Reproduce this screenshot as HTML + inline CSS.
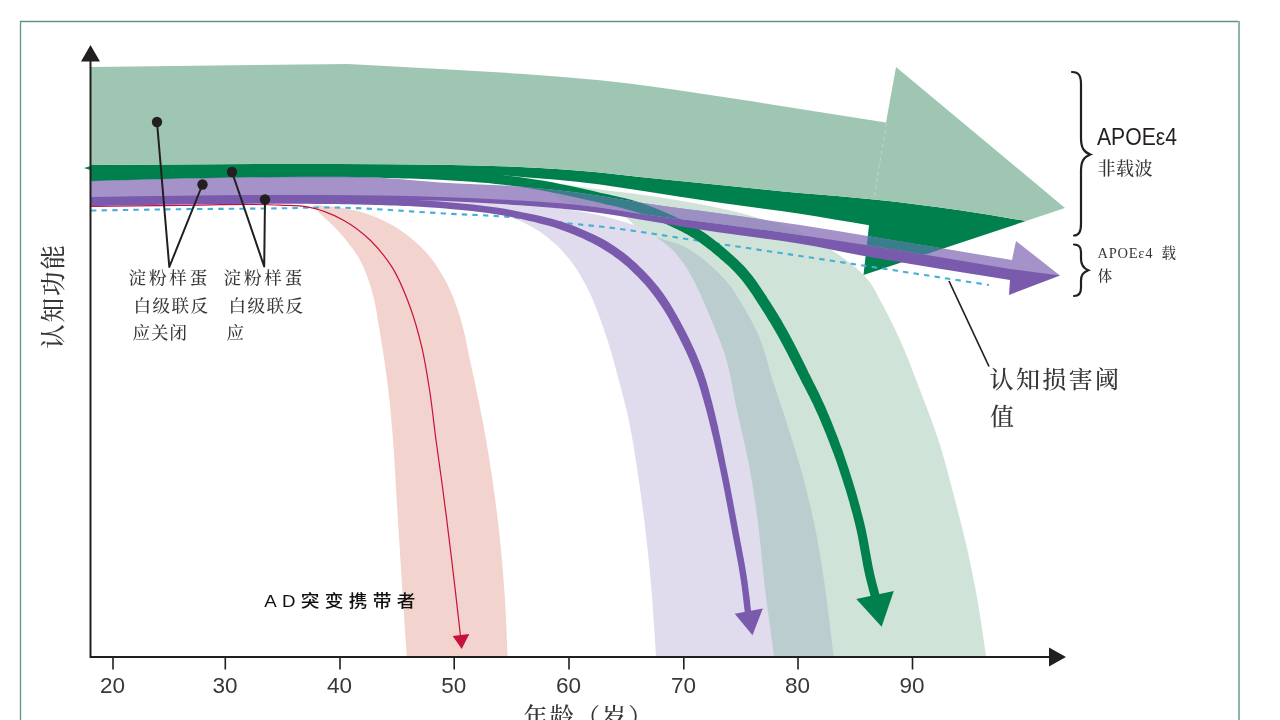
<!DOCTYPE html>
<html lang="zh-CN">
<head>
<meta charset="utf-8">
<title>认知功能与年龄</title>
<style>
html,body{margin:0;padding:0;background:#fff;}
body{width:1280px;height:720px;overflow:hidden;}
svg{display:block;}
</style>
</head>
<body>
<svg width="1280" height="720" viewBox="0 0 1280 720" role="img" aria-label="认知功能与年龄">
<defs>
<clipPath id="cLav"><path d="M400.0,204.0 C423.3,206.0 446.8,206.6 470.0,210.0 C484.4,212.1 499.3,212.9 513.0,218.0 C525.0,222.5 536.5,228.9 546.7,236.7 C555.4,243.4 563.2,251.4 570.0,260.0 C576.5,268.2 581.8,277.4 586.7,286.7 C593.4,299.4 598.2,313.1 603.0,326.7 C606.3,336.0 609.2,345.5 612.0,355.0 C614.4,363.3 616.6,371.6 618.8,380.0 C622.2,392.9 625.7,405.8 628.5,418.8 C632.7,438.0 635.4,457.5 638.3,477.0 C641.2,496.3 643.8,515.6 646.0,535.0 C648.3,554.5 650.2,574.0 651.8,593.6 C653.5,614.4 654.6,635.2 656.0,656.0 L833.6,656.0 C830.4,630.7 827.8,605.3 824.0,580.0 C822.0,566.6 820.0,553.3 817.5,540.0 C813.4,518.1 808.3,496.5 802.5,475.0 C796.6,453.1 789.5,431.6 782.5,410.0 C779.2,400.0 775.7,390.0 772.5,380.0 C768.0,365.9 765.2,351.2 759.5,337.5 C754.8,326.2 748.8,315.5 742.5,305.0 C737.8,297.3 733.2,289.4 727.5,282.5 C722.2,276.1 716.2,270.4 710.0,265.0 C702.5,258.5 694.7,252.1 686.0,247.5 C676.6,242.5 666.0,240.5 656.0,237.0 L634,225 C624.3,222.2 614.8,218.9 605.0,216.5 C596.7,214.5 588.4,213.0 580.0,211.5 C560.2,208.0 540.1,205.9 520.0,204.0 C493.4,201.5 466.7,201.3 440.0,200.0 Z"/></clipPath>
<clipPath id="cLP"><path d="M91.0,181.0 C120.7,180.2 150.3,179.2 180.0,178.6 C213.3,177.9 246.7,177.1 280.0,177.0 C313.3,176.9 346.7,176.1 380.0,177.8 C400.0,178.8 420.0,181.2 440.0,182.5 C466.6,184.3 493.4,184.4 520.0,186.6 C546.8,188.9 573.4,192.1 600.0,196.0 C613.4,198.0 626.6,200.4 640.0,202.5 C666.6,206.6 693.3,209.8 720.0,213.5 C746.7,217.3 773.4,220.9 800.0,225.0 C822.0,228.4 844.0,232.1 866.0,235.7 C914.7,243.7 963.3,251.9 1012.0,260.0 L1016,241 L1060,275.5  L1010,269 C962.0,261.0 914.1,252.5 866.0,245.0 C844.0,241.6 822.0,238.2 800.0,235.0 C773.4,231.1 746.7,227.5 720.0,224.0 C693.3,220.5 666.6,217.7 640.0,213.8 C626.6,211.8 613.4,209.3 600.0,207.5 C573.5,204.0 546.7,202.4 520.0,200.6 C493.4,198.9 466.7,197.9 440.0,197.0 C420.0,196.3 400.0,195.9 380.0,195.6 C346.7,195.0 313.3,195.0 280.0,195.0 C246.7,195.0 213.3,195.4 180.0,195.8 C150.3,196.1 120.7,196.6 91.0,197.0 Z"/></clipPath>
</defs>
<path d="M20.5,720 V21.5 H1238" fill="none" stroke="#5f9583" stroke-width="1.3"/>
<path d="M1239,21 V720" fill="none" stroke="#8fb5a8" stroke-width="2"/>
<path d="M312.0,206.0 C321.3,215.0 331.5,223.2 340.0,233.0 C347.3,241.5 354.6,250.2 360.0,260.0 C365.2,269.4 368.6,279.7 371.7,290.0 C375.9,304.0 377.5,318.6 380.0,333.0 C383.1,350.9 385.8,368.9 388.0,387.0 C390.1,404.6 391.6,422.3 393.0,440.0 C394.6,460.0 395.5,480.0 396.7,500.0 C398.4,526.7 400.0,553.3 401.7,580.0 C403.3,605.3 405.0,630.7 406.7,656.0 L507.5,656.0 C506.7,637.3 506.2,618.6 505.0,600.0 C503.7,580.0 502.1,560.0 500.0,540.0 C497.9,520.0 495.4,499.9 492.5,480.0 C489.6,459.9 486.2,439.9 482.5,420.0 C478.7,399.9 474.4,379.9 470.0,360.0 C466.8,345.5 464.5,330.8 460.0,316.7 C456.3,305.2 452.3,293.7 446.7,283.0 C441.1,272.4 434.7,262.0 426.7,253.0 C418.9,244.2 409.8,236.5 400.0,230.0 C387.1,221.4 372.5,214.9 357.5,211.0 C350.1,209.1 342.5,208.1 335.0,207.0 C329.4,206.2 323.7,205.7 318.0,205.0 Z" fill="#f2d3cd"/>
<path d="M400.0,204.0 C423.3,206.0 446.8,206.6 470.0,210.0 C484.4,212.1 499.3,212.9 513.0,218.0 C525.0,222.5 536.5,228.9 546.7,236.7 C555.4,243.4 563.2,251.4 570.0,260.0 C576.5,268.2 581.8,277.4 586.7,286.7 C593.4,299.4 598.2,313.1 603.0,326.7 C606.3,336.0 609.2,345.5 612.0,355.0 C614.4,363.3 616.6,371.6 618.8,380.0 C622.2,392.9 625.7,405.8 628.5,418.8 C632.7,438.0 635.4,457.5 638.3,477.0 C641.2,496.3 643.8,515.6 646.0,535.0 C648.3,554.5 650.2,574.0 651.8,593.6 C653.5,614.4 654.6,635.2 656.0,656.0 L833.6,656.0 C830.4,630.7 827.8,605.3 824.0,580.0 C822.0,566.6 820.0,553.3 817.5,540.0 C813.4,518.1 808.3,496.5 802.5,475.0 C796.6,453.1 789.5,431.6 782.5,410.0 C779.2,400.0 775.7,390.0 772.5,380.0 C768.0,365.9 765.2,351.2 759.5,337.5 C754.8,326.2 748.8,315.5 742.5,305.0 C737.8,297.3 733.2,289.4 727.5,282.5 C722.2,276.1 716.2,270.4 710.0,265.0 C702.5,258.5 694.7,252.1 686.0,247.5 C676.6,242.5 666.0,240.5 656.0,237.0 L634,225 C624.3,222.2 614.8,218.9 605.0,216.5 C596.7,214.5 588.4,213.0 580.0,211.5 C560.2,208.0 540.1,205.9 520.0,204.0 C493.4,201.5 466.7,201.3 440.0,200.0 Z" fill="#e0dced"/>
<path d="M540.0,180.0 C557.0,182.8 573.9,186.1 591.0,188.5 C607.3,190.8 623.7,192.1 640.0,194.4 C677.8,199.8 715.8,205.6 752.5,216.2 C768.5,220.9 784.9,225.0 800.0,232.0 C811.3,237.3 822.1,243.8 832.5,250.7 C838.8,254.8 845.2,259.0 851.0,263.8 C857.9,269.5 864.7,275.4 870.0,282.5 C874.0,287.9 876.8,294.1 880.0,300.0 C887.2,313.1 893.8,326.4 900.0,340.0 C907.4,356.3 913.6,373.2 920.0,390.0 C927.0,408.2 934.1,426.4 940.0,445.0 C945.7,463.1 950.2,481.6 955.0,500.0 C959.3,516.6 963.7,533.2 967.5,550.0 C971.2,566.6 974.5,583.3 977.5,600.0 C980.8,618.6 983.2,637.3 986.0,656.0 L774.0,656.0 C770.7,630.7 766.8,605.4 764.0,580.0 C762.5,566.7 761.5,553.3 760.0,540.0 C757.3,516.6 754.2,493.2 750.0,470.0 C746.3,449.9 741.3,430.0 737.0,410.0 C733.0,391.7 730.7,372.9 725.0,355.0 C721.1,342.7 715.9,330.9 711.0,319.0 C708.4,312.6 705.8,306.3 703.0,300.0 C700.1,293.6 697.3,287.2 694.0,281.0 C690.9,275.2 687.8,269.4 684.0,264.0 C679.8,258.1 675.3,252.4 670.0,247.5 C665.7,243.6 660.7,240.5 656.0,237.0 L634,225 L627,218 L560,200 Z" fill="#cfe3d9"/>
<path d="M540.0,180.0 C557.0,182.8 573.9,186.1 591.0,188.5 C607.3,190.8 623.7,192.1 640.0,194.4 C677.8,199.8 715.8,205.6 752.5,216.2 C768.5,220.9 784.9,225.0 800.0,232.0 C811.3,237.3 822.1,243.8 832.5,250.7 C838.8,254.8 845.2,259.0 851.0,263.8 C857.9,269.5 864.7,275.4 870.0,282.5 C874.0,287.9 876.8,294.1 880.0,300.0 C887.2,313.1 893.8,326.4 900.0,340.0 C907.4,356.3 913.6,373.2 920.0,390.0 C927.0,408.2 934.1,426.4 940.0,445.0 C945.7,463.1 950.2,481.6 955.0,500.0 C959.3,516.6 963.7,533.2 967.5,550.0 C971.2,566.6 974.5,583.3 977.5,600.0 C980.8,618.6 983.2,637.3 986.0,656.0 L774.0,656.0 C770.7,630.7 766.8,605.4 764.0,580.0 C762.5,566.7 761.5,553.3 760.0,540.0 C757.3,516.6 754.2,493.2 750.0,470.0 C746.3,449.9 741.3,430.0 737.0,410.0 C733.0,391.7 730.7,372.9 725.0,355.0 C721.1,342.7 715.9,330.9 711.0,319.0 C708.4,312.6 705.8,306.3 703.0,300.0 C700.1,293.6 697.3,287.2 694.0,281.0 C690.9,275.2 687.8,269.4 684.0,264.0 C679.8,258.1 675.3,252.4 670.0,247.5 C665.7,243.6 660.7,240.5 656.0,237.0 L634,225 L627,218 L560,200 Z" fill="#bccdd0" clip-path="url(#cLav)"/>
<path d="M91.0,165.0 C154.0,164.7 217.0,164.0 280.0,164.0 C333.3,164.0 386.7,163.7 440.0,164.8 C466.7,165.3 493.4,165.7 520.0,167.0 C546.7,168.3 573.4,169.9 600.0,172.5 C613.4,173.8 626.7,175.5 640.0,176.9 C666.7,179.8 693.3,182.3 720.0,185.0 C746.7,187.7 773.3,190.6 800.0,193.1 C824.7,195.4 849.4,196.9 874.0,199.5 C902.7,202.5 931.4,206.1 960.0,210.3 C982.1,213.5 1004.0,217.4 1026.0,221.0 L863.5,275 L869,225.3 C846.0,221.5 823.1,217.3 800.0,213.8 C773.4,209.7 746.6,206.7 720.0,202.8 C693.3,198.9 666.7,194.7 640.0,190.6 C626.7,188.6 613.4,186.3 600.0,184.5 C568.5,180.2 536.7,178.5 505.0,175.5 L440,174 L91,174 L91,170.3 L84,168 L91,166 Z" fill="#00804c"/>
<path d="M91,67 L348,64 C378.7,65.7 409.3,67.3 440.0,69.0 C466.7,70.5 493.4,71.8 520.0,73.7 C546.7,75.6 573.4,77.5 600.0,80.3 C633.4,83.8 666.7,88.7 700.0,93.5 C713.3,95.4 726.7,97.5 740.0,99.5 C788.7,106.9 837.3,114.8 886.0,122.5 L896,67 L1065,208 L1026,221 C1004.0,217.4 982.1,213.5 960.0,210.3 C931.4,206.1 902.7,202.5 874.0,199.5 C849.4,196.9 824.7,195.4 800.0,193.1 C773.3,190.6 746.7,187.7 720.0,185.0 C693.3,182.3 666.7,179.8 640.0,176.9 C626.7,175.5 613.4,173.8 600.0,172.5 C573.4,169.9 546.7,168.3 520.0,167.0 C493.4,165.7 466.7,165.3 440.0,164.8 C386.7,163.7 333.3,164.0 280.0,164.0 C217.0,164.0 154.0,164.7 91.0,165.0 Z" fill="#9fc6b3"/>
<path d="M91.0,210.5 C120.7,210.1 150.3,209.5 180.0,209.2 C212.0,208.8 244.0,208.8 276.0,208.4 C295.7,208.2 315.3,207.2 335.0,207.5 C347.3,207.7 359.7,208.3 372.0,208.9 C386.0,209.6 400.0,210.7 414.0,211.6 C424.3,212.2 434.7,212.9 445.0,213.5 C466.7,214.8 488.4,215.2 510.0,217.0 C530.7,218.7 551.3,221.6 572.0,223.7 C581.3,224.7 590.7,225.5 600.0,226.5 C633.5,230.2 666.7,236.1 700.0,241.0 C746.7,247.9 793.3,254.9 840.0,262.0 C889.7,269.6 939.3,277.3 989.0,285.0" fill="none" stroke="#46afd7" stroke-width="2.1" stroke-dasharray="5.4 5.2"/>
<path d="M91.0,206.4 C120.7,206.1 150.3,205.6 180.0,205.4 C213.3,205.2 246.7,203.4 280.0,205.1 C289.2,205.6 298.5,205.2 307.5,206.9 C319.9,209.2 332.0,213.9 343.0,220.0 C352.8,225.4 361.9,232.3 370.0,240.0 C378.3,247.9 385.5,257.1 391.7,266.7 C399.6,279.0 404.9,293.0 410.0,306.7 C414.8,319.7 418.5,333.2 421.7,346.7 C425.3,362.0 427.6,377.5 430.0,393.0 C432.4,408.6 433.9,424.3 436.0,440.0 C438.1,455.7 440.4,471.3 442.5,487.0 C445.7,511.3 448.8,535.7 451.7,560.0 C454.8,585.3 457.6,610.7 460.5,636.0" fill="none" stroke="#c8103c" stroke-width="1.2"/>
<path d="M452.7,636 L469.3,634 L461.7,649 Z" fill="#c8103c"/>
<path d="M91.1,206.0 L100.0,205.9 L108.9,205.7 L117.8,205.6 L126.7,205.4 L135.6,205.3 L144.5,205.1 L153.4,204.9 L162.2,204.8 L171.1,204.7 L180.0,204.5 L190.0,204.4 L200.0,204.3 L210.0,204.2 L220.0,204.1 L230.0,204.0 L240.0,203.9 L250.0,203.8 L260.0,203.8 L270.0,203.7 L280.0,203.7 L287.0,203.8 L294.0,203.8 L301.0,203.8 L308.0,203.8 L315.0,203.9 L322.0,203.9 L329.0,204.0 L336.0,204.1 L342.9,204.2 L349.9,204.3 L354.9,204.4 L359.9,204.6 L364.9,204.7 L369.9,204.8 L374.9,204.9 L379.9,205.0 L384.9,205.2 L389.9,205.4 L394.9,205.5 L399.9,205.7 L403.9,205.9 L407.9,206.1 L411.9,206.3 L415.8,206.5 L419.8,206.7 L423.8,206.9 L427.8,207.2 L431.8,207.4 L435.8,207.7 L439.7,208.0 L447.8,208.7 L455.8,209.4 L463.8,210.2 L471.8,211.1 L479.8,212.0 L487.8,213.0 L495.7,214.2 L503.6,215.5 L511.5,216.9 L519.3,218.5 L524.4,219.7 L529.5,220.9 L534.6,222.1 L539.6,223.4 L544.7,224.7 L549.7,226.1 L554.6,227.6 L559.5,229.2 L564.4,230.9 L569.1,232.7 L573.6,234.5 L578.1,236.4 L582.5,238.3 L586.8,240.4 L591.1,242.5 L595.4,244.7 L599.5,247.0 L603.6,249.4 L607.6,251.9 L611.6,254.5 L615.5,257.4 L619.4,260.3 L623.3,263.4 L627.0,266.6 L630.7,269.9 L634.2,273.4 L637.7,276.8 L641.1,280.4 L644.5,284.1 L647.7,287.8 L651.7,292.7 L655.5,297.7 L659.2,302.9 L662.7,308.2 L666.0,313.6 L669.2,319.1 L672.3,324.7 L675.4,330.4 L678.3,336.1 L681.2,341.9 L682.9,345.3 L684.5,348.7 L686.1,352.1 L687.7,355.5 L689.2,358.9 L690.7,362.4 L692.1,365.9 L693.5,369.4 L694.8,372.9 L696.1,376.4 L697.0,379.0 L697.9,381.6 L698.7,384.2 L699.6,386.9 L700.4,389.5 L701.2,392.2 L701.9,394.9 L702.7,397.6 L703.5,400.3 L704.2,403.0 L706.0,409.2 L707.6,415.4 L709.2,421.7 L710.7,427.9 L712.2,434.2 L713.7,440.5 L715.1,446.7 L716.5,453.1 L717.9,459.4 L719.3,465.7 L720.6,472.1 L721.9,478.6 L723.2,485.1 L724.5,491.6 L725.7,498.1 L727.0,504.6 L728.2,511.1 L729.4,517.6 L730.6,524.1 L731.8,530.6 L732.7,535.6 L733.7,540.6 L734.6,545.6 L735.6,550.6 L736.5,555.6 L737.5,560.5 L738.4,565.5 L739.2,570.5 L740.0,575.5 L740.8,580.5 L741.2,583.6 L741.7,586.8 L742.1,590.0 L742.5,593.2 L742.9,596.4 L743.2,599.6 L743.6,602.8 L744.0,606.0 L744.4,609.2 L744.8,612.4 L751.2,611.6 L750.8,608.4 L750.4,605.2 L750.1,602.0 L749.7,598.8 L749.3,595.6 L748.9,592.4 L748.5,589.2 L748.1,586.0 L747.7,582.7 L747.2,579.5 L746.4,574.5 L745.6,569.4 L744.8,564.4 L743.9,559.4 L742.9,554.4 L742.0,549.4 L741.0,544.4 L740.1,539.4 L739.1,534.4 L738.2,529.4 L737.0,522.9 L735.8,516.4 L734.6,509.9 L733.4,503.4 L732.2,496.9 L730.9,490.3 L729.7,483.8 L728.4,477.3 L727.1,470.8 L725.7,464.3 L724.5,458.0 L723.2,451.6 L721.9,445.3 L720.6,438.9 L719.2,432.6 L717.9,426.3 L716.4,419.9 L714.9,413.6 L713.4,407.3 L711.8,401.0 L711.0,398.2 L710.3,395.5 L709.6,392.8 L708.9,390.1 L708.1,387.3 L707.3,384.6 L706.5,381.8 L705.7,379.1 L704.8,376.4 L703.9,373.6 L702.6,370.0 L701.3,366.4 L699.8,362.7 L698.4,359.2 L696.9,355.6 L695.3,352.1 L693.8,348.5 L692.1,345.1 L690.5,341.6 L688.8,338.1 L685.9,332.3 L682.9,326.5 L679.8,320.7 L676.6,314.9 L673.3,309.2 L669.9,303.6 L666.3,298.0 L662.5,292.6 L658.5,287.3 L654.3,282.2 L650.9,278.3 L647.4,274.6 L643.9,270.8 L640.2,267.2 L636.5,263.6 L632.7,260.2 L628.8,256.8 L624.8,253.6 L620.6,250.5 L616.4,247.5 L612.3,244.7 L608.0,242.1 L603.7,239.6 L599.3,237.3 L594.8,235.0 L590.3,232.9 L585.8,230.9 L581.2,228.9 L576.6,227.1 L572.1,225.3 L567.0,223.5 L561.9,221.8 L556.8,220.3 L551.7,218.8 L546.5,217.5 L541.4,216.3 L536.2,215.1 L531.0,214.0 L525.9,212.9 L520.7,211.9 L512.7,210.3 L504.7,208.8 L496.7,207.6 L488.7,206.4 L480.6,205.4 L472.5,204.5 L464.5,203.7 L456.4,202.9 L448.3,202.2 L440.3,201.6 L436.2,201.2 L432.2,201.0 L428.2,200.7 L424.2,200.4 L420.2,200.2 L416.2,200.0 L412.2,199.8 L408.2,199.6 L404.1,199.4 L400.1,199.3 L395.1,199.0 L390.1,198.9 L385.1,198.7 L380.1,198.5 L375.1,198.4 L370.1,198.3 L365.1,198.2 L360.1,198.1 L355.1,198.0 L350.1,197.9 L343.1,197.7 L336.0,197.6 L329.0,197.5 L322.0,197.5 L315.0,197.4 L308.0,197.3 L301.0,197.3 L294.0,197.3 L287.0,197.3 L280.0,197.3 L270.0,197.2 L260.0,197.3 L250.0,197.3 L240.0,197.4 L230.0,197.5 L220.0,197.6 L210.0,197.7 L200.0,197.8 L190.0,197.9 L180.0,198.1 L171.1,198.2 L162.1,198.3 L153.2,198.4 L144.3,198.6 L135.4,198.8 L126.5,198.9 L117.6,199.1 L108.7,199.2 L99.8,199.4 L90.9,199.6 Z" fill="#7a5aad"/>
<path d="M734.7,613.7 L762.8,608.5 L752.5,635.3 Z" fill="#7a5aad"/>
<path d="M91.1,181.3 L100.0,181.0 L108.9,180.8 L117.8,180.5 L126.7,180.2 L135.6,180.0 L144.5,179.7 L153.4,179.5 L162.3,179.2 L171.2,179.0 L180.1,178.8 L190.1,178.6 L200.1,178.4 L210.1,178.2 L220.1,178.0 L230.1,177.8 L240.1,177.7 L250.1,177.6 L260.0,177.4 L270.0,177.4 L280.0,177.3 L290.0,177.3 L300.0,177.2 L310.0,177.2 L320.0,177.2 L330.0,177.2 L340.0,177.2 L350.0,177.3 L359.9,177.4 L369.9,177.6 L379.9,177.8 L385.9,177.9 L391.9,178.1 L397.9,178.2 L403.9,178.4 L409.9,178.6 L415.9,178.8 L421.8,179.0 L427.8,179.2 L433.8,179.5 L439.8,179.8 L447.8,180.3 L455.8,180.8 L463.8,181.3 L471.7,181.8 L479.7,182.5 L487.7,183.1 L495.6,183.9 L503.6,184.7 L511.5,185.7 L519.3,186.8 L527.3,187.9 L535.3,189.3 L543.3,190.7 L551.2,192.2 L559.2,193.8 L567.1,195.4 L575.1,197.2 L583.0,198.9 L590.9,200.8 L598.9,202.6 L602.7,203.5 L606.5,204.4 L610.4,205.3 L614.2,206.1 L618.0,207.0 L621.7,207.9 L625.4,208.9 L629.1,209.9 L632.8,211.0 L636.4,212.1 L640.2,213.4 L644.0,214.8 L647.8,216.3 L651.5,217.8 L655.2,219.3 L659.0,220.9 L662.7,222.6 L666.4,224.3 L670.1,226.0 L673.7,227.7 L675.2,228.4 L676.6,229.1 L678.0,229.8 L679.4,230.4 L680.7,231.1 L682.1,231.8 L683.4,232.5 L684.8,233.2 L686.1,233.9 L687.4,234.6 L690.4,236.4 L693.4,238.2 L696.3,240.1 L699.2,242.1 L702.1,244.2 L704.9,246.3 L707.7,248.4 L710.5,250.6 L713.3,252.9 L716.1,255.2 L718.6,257.2 L721.0,259.4 L723.5,261.5 L725.9,263.7 L728.3,265.8 L730.6,268.1 L732.9,270.3 L735.1,272.6 L737.3,274.9 L739.4,277.3 L741.8,280.1 L744.1,283.0 L746.3,285.9 L748.5,288.9 L750.6,292.0 L752.7,295.1 L754.7,298.3 L756.8,301.5 L758.9,304.7 L761.0,307.9 L762.8,310.8 L764.7,313.8 L766.5,316.7 L768.3,319.7 L770.1,322.6 L771.9,325.6 L773.6,328.6 L775.4,331.6 L777.1,334.6 L778.8,337.6 L780.9,341.5 L783.1,345.4 L785.1,349.3 L787.2,353.3 L789.2,357.3 L791.3,361.3 L793.3,365.3 L795.3,369.3 L797.3,373.3 L799.4,377.3 L800.7,380.0 L802.1,382.7 L803.5,385.4 L804.9,388.1 L806.3,390.8 L807.7,393.4 L809.0,396.1 L810.4,398.8 L811.7,401.4 L813.0,404.1 L815.8,410.2 L818.6,416.3 L821.2,422.5 L823.8,428.7 L826.4,434.9 L828.8,441.2 L831.2,447.5 L833.6,453.8 L835.9,460.1 L838.1,466.5 L840.1,472.4 L842.0,478.3 L843.9,484.2 L845.8,490.1 L847.5,496.1 L849.3,502.1 L850.9,508.0 L852.6,514.0 L854.1,520.0 L855.6,526.1 L856.9,531.4 L858.0,536.8 L859.0,542.3 L860.0,547.8 L861.0,553.3 L862.0,558.8 L863.0,564.4 L864.1,570.0 L865.3,575.5 L866.6,581.1 L867.1,582.8 L867.5,584.5 L868.0,586.3 L868.4,588.0 L868.9,589.7 L869.3,591.4 L869.8,593.1 L870.2,594.8 L870.7,596.5 L871.1,598.2 L879.9,595.8 L879.4,594.1 L878.9,592.4 L878.5,590.7 L878.0,589.0 L877.6,587.3 L877.1,585.7 L876.7,584.0 L876.2,582.3 L875.8,580.6 L875.4,578.9 L874.1,573.6 L873.0,568.2 L871.9,562.7 L870.9,557.2 L869.9,551.7 L868.9,546.2 L867.9,540.6 L866.8,535.1 L865.7,529.5 L864.4,523.9 L862.9,517.8 L861.3,511.7 L859.7,505.6 L858.0,499.6 L856.3,493.5 L854.5,487.5 L852.7,481.5 L850.8,475.5 L848.9,469.5 L846.9,463.5 L844.7,457.0 L842.5,450.6 L840.1,444.2 L837.8,437.8 L835.3,431.4 L832.8,425.0 L830.3,418.7 L827.6,412.4 L824.9,406.1 L822.0,399.9 L820.7,397.1 L819.4,394.3 L818.1,391.6 L816.8,388.9 L815.4,386.1 L814.0,383.4 L812.7,380.7 L811.3,378.0 L810.0,375.3 L808.6,372.7 L806.7,368.6 L804.7,364.6 L802.7,360.6 L800.7,356.6 L798.7,352.5 L796.7,348.5 L794.6,344.4 L792.5,340.4 L790.4,336.4 L788.2,332.4 L786.5,329.3 L784.7,326.2 L783.0,323.2 L781.2,320.1 L779.4,317.1 L777.6,314.1 L775.7,311.0 L773.8,308.0 L771.9,305.0 L770.0,302.1 L768.0,298.9 L765.9,295.6 L763.8,292.4 L761.7,289.2 L759.5,285.9 L757.3,282.7 L755.0,279.5 L752.6,276.3 L750.1,273.2 L747.6,270.2 L745.3,267.6 L742.9,265.1 L740.5,262.7 L738.1,260.3 L735.6,258.0 L733.2,255.7 L730.6,253.4 L728.1,251.2 L725.5,249.0 L722.9,246.8 L720.1,244.5 L717.2,242.2 L714.3,239.9 L711.4,237.7 L708.4,235.5 L705.3,233.3 L702.2,231.2 L699.1,229.2 L695.9,227.3 L692.6,225.4 L691.2,224.6 L689.7,223.8 L688.3,223.1 L686.8,222.4 L685.4,221.7 L683.9,221.0 L682.5,220.3 L681.1,219.6 L679.7,218.9 L678.3,218.3 L674.5,216.5 L670.7,214.8 L666.9,213.1 L663.1,211.4 L659.2,209.8 L655.4,208.2 L651.5,206.7 L647.5,205.2 L643.6,203.8 L639.6,202.5 L635.7,201.3 L631.9,200.1 L628.0,199.1 L624.1,198.1 L620.3,197.2 L616.4,196.3 L612.6,195.4 L608.7,194.6 L604.9,193.7 L601.1,192.9 L593.2,191.1 L585.2,189.3 L577.2,187.5 L569.2,185.8 L561.1,184.2 L553.1,182.6 L545.0,181.1 L536.9,179.7 L528.8,178.4 L520.7,177.2 L512.6,176.2 L504.6,175.3 L496.5,174.5 L488.5,173.8 L480.4,173.2 L472.4,172.6 L464.3,172.1 L456.3,171.7 L448.3,171.2 L440.2,170.8 L434.2,170.5 L428.2,170.2 L422.2,170.0 L416.2,169.8 L410.1,169.6 L404.1,169.4 L398.1,169.2 L392.1,169.1 L386.1,168.9 L380.1,168.8 L370.1,168.6 L360.1,168.4 L350.0,168.3 L340.0,168.2 L330.0,168.2 L320.0,168.2 L310.0,168.2 L300.0,168.2 L290.0,168.3 L280.0,168.3 L270.0,168.4 L260.0,168.5 L249.9,168.6 L239.9,168.7 L229.9,168.8 L219.9,169.0 L209.9,169.2 L199.9,169.4 L189.9,169.6 L179.9,169.8 L171.0,170.0 L162.1,170.2 L153.2,170.5 L144.3,170.7 L135.4,171.0 L126.5,171.2 L117.6,171.5 L108.7,171.8 L99.8,172.0 L90.9,172.3 Z" fill="#00804c"/>
<path d="M856.3,599 L893.8,591 L881.6,626.7 Z" fill="#00804c"/>
<path d="M886.5,123 L874,198" stroke="#fff" stroke-opacity="0.35" stroke-width="0.8" stroke-dasharray="4 3" fill="none"/>
<path d="M91.0,189.0 C120.7,188.4 150.3,187.7 180.0,187.2 C213.3,186.7 246.7,186.1 280.0,186.0 C313.3,185.9 346.7,185.6 380.0,186.7 C400.0,187.4 420.0,188.8 440.0,189.8 C466.7,191.1 493.4,191.6 520.0,193.6 C546.7,195.6 573.5,198.0 600.0,201.8 C613.4,203.6 626.6,206.1 640.0,208.1 C666.6,212.1 693.3,215.1 720.0,218.8 C746.7,222.4 773.4,226.0 800.0,230.0 C822.0,233.3 844.0,236.8 866.0,240.3 C914.1,248.1 962.0,256.8 1010.0,265.0 L1030,262 L1060,275.5 L1009,295 L1010,280 C962.0,272.1 913.9,265.0 866.0,256.3 C844.0,252.3 822.1,247.4 800.0,243.8 C773.4,239.3 746.6,236.6 720.0,232.6 C693.3,228.5 666.7,223.7 640.0,219.4 C626.7,217.2 613.4,214.9 600.0,213.0 C573.5,209.3 546.7,207.3 520.0,205.3 C493.4,203.3 466.7,202.3 440.0,200.8 L91,200 Z" fill="#7a5aad"/>
<path d="M91.0,181.0 C120.7,180.2 150.3,179.2 180.0,178.6 C213.3,177.9 246.7,177.1 280.0,177.0 C313.3,176.9 346.7,176.1 380.0,177.8 C400.0,178.8 420.0,181.2 440.0,182.5 C466.6,184.3 493.4,184.4 520.0,186.6 C546.8,188.9 573.4,192.1 600.0,196.0 C613.4,198.0 626.6,200.4 640.0,202.5 C666.6,206.6 693.3,209.8 720.0,213.5 C746.7,217.3 773.4,220.9 800.0,225.0 C822.0,228.4 844.0,232.1 866.0,235.7 C914.7,243.7 963.3,251.9 1012.0,260.0 L1016,241 L1060,275.5  L1010,269 C962.0,261.0 914.1,252.5 866.0,245.0 C844.0,241.6 822.0,238.2 800.0,235.0 C773.4,231.1 746.7,227.5 720.0,224.0 C693.3,220.5 666.6,217.7 640.0,213.8 C626.6,211.8 613.4,209.3 600.0,207.5 C573.5,204.0 546.7,202.4 520.0,200.6 C493.4,198.9 466.7,197.9 440.0,197.0 C420.0,196.3 400.0,195.9 380.0,195.6 C346.7,195.0 313.3,195.0 280.0,195.0 C246.7,195.0 213.3,195.4 180.0,195.8 C150.3,196.1 120.7,196.6 91.0,197.0 Z" fill="#a592c8"/>
<g clip-path="url(#cLP)">
<path d="M540.0,180.0 C557.0,182.8 573.9,186.1 591.0,188.5 C607.3,190.8 623.7,192.1 640.0,194.4 C677.8,199.8 715.8,205.6 752.5,216.2 C768.5,220.9 784.9,225.0 800.0,232.0 C811.3,237.3 822.1,243.8 832.5,250.7 C838.8,254.8 845.2,259.0 851.0,263.8 C857.9,269.5 864.7,275.4 870.0,282.5 C874.0,287.9 876.8,294.1 880.0,300.0 C887.2,313.1 893.8,326.4 900.0,340.0 C907.4,356.3 913.6,373.2 920.0,390.0 C927.0,408.2 934.1,426.4 940.0,445.0 C945.7,463.1 950.2,481.6 955.0,500.0 C959.3,516.6 963.7,533.2 967.5,550.0 C971.2,566.6 974.5,583.3 977.5,600.0 C980.8,618.6 983.2,637.3 986.0,656.0 L774.0,656.0 C770.7,630.7 766.8,605.4 764.0,580.0 C762.5,566.7 761.5,553.3 760.0,540.0 C757.3,516.6 754.2,493.2 750.0,470.0 C746.3,449.9 741.3,430.0 737.0,410.0 C733.0,391.7 730.7,372.9 725.0,355.0 C721.1,342.7 715.9,330.9 711.0,319.0 C708.4,312.6 705.8,306.3 703.0,300.0 C700.1,293.6 697.3,287.2 694.0,281.0 C690.9,275.2 687.8,269.4 684.0,264.0 C679.8,258.1 675.3,252.4 670.0,247.5 C665.7,243.6 660.7,240.5 656.0,237.0 L634,225 L627,218 L560,200 Z" fill="#9b90c1"/>
<path d="M91.1,181.3 L100.0,181.0 L108.9,180.8 L117.8,180.5 L126.7,180.2 L135.6,180.0 L144.5,179.7 L153.4,179.5 L162.3,179.2 L171.2,179.0 L180.1,178.8 L190.1,178.6 L200.1,178.4 L210.1,178.2 L220.1,178.0 L230.1,177.8 L240.1,177.7 L250.1,177.6 L260.0,177.4 L270.0,177.4 L280.0,177.3 L290.0,177.3 L300.0,177.2 L310.0,177.2 L320.0,177.2 L330.0,177.2 L340.0,177.2 L350.0,177.3 L359.9,177.4 L369.9,177.6 L379.9,177.8 L385.9,177.9 L391.9,178.1 L397.9,178.2 L403.9,178.4 L409.9,178.6 L415.9,178.8 L421.8,179.0 L427.8,179.2 L433.8,179.5 L439.8,179.8 L447.8,180.3 L455.8,180.8 L463.8,181.3 L471.7,181.8 L479.7,182.5 L487.7,183.1 L495.6,183.9 L503.6,184.7 L511.5,185.7 L519.3,186.8 L527.3,187.9 L535.3,189.3 L543.3,190.7 L551.2,192.2 L559.2,193.8 L567.1,195.4 L575.1,197.2 L583.0,198.9 L590.9,200.8 L598.9,202.6 L602.7,203.5 L606.5,204.4 L610.4,205.3 L614.2,206.1 L618.0,207.0 L621.7,207.9 L625.4,208.9 L629.1,209.9 L632.8,211.0 L636.4,212.1 L640.2,213.4 L644.0,214.8 L647.8,216.3 L651.5,217.8 L655.2,219.3 L659.0,220.9 L662.7,222.6 L666.4,224.3 L670.1,226.0 L673.7,227.7 L675.2,228.4 L676.6,229.1 L678.0,229.8 L679.4,230.4 L680.7,231.1 L682.1,231.8 L683.4,232.5 L684.8,233.2 L686.1,233.9 L687.4,234.6 L690.4,236.4 L693.4,238.2 L696.3,240.1 L699.2,242.1 L702.1,244.2 L704.9,246.3 L707.7,248.4 L710.5,250.6 L713.3,252.9 L716.1,255.2 L718.6,257.2 L721.0,259.4 L723.5,261.5 L725.9,263.7 L728.3,265.8 L730.6,268.1 L732.9,270.3 L735.1,272.6 L737.3,274.9 L739.4,277.3 L741.8,280.1 L744.1,283.0 L746.3,285.9 L748.5,288.9 L750.6,292.0 L752.7,295.1 L754.7,298.3 L756.8,301.5 L758.9,304.7 L761.0,307.9 L762.8,310.8 L764.7,313.8 L766.5,316.7 L768.3,319.7 L770.1,322.6 L771.9,325.6 L773.6,328.6 L775.4,331.6 L777.1,334.6 L778.8,337.6 L780.9,341.5 L783.1,345.4 L785.1,349.3 L787.2,353.3 L789.2,357.3 L791.3,361.3 L793.3,365.3 L795.3,369.3 L797.3,373.3 L799.4,377.3 L800.7,380.0 L802.1,382.7 L803.5,385.4 L804.9,388.1 L806.3,390.8 L807.7,393.4 L809.0,396.1 L810.4,398.8 L811.7,401.4 L813.0,404.1 L815.8,410.2 L818.6,416.3 L821.2,422.5 L823.8,428.7 L826.4,434.9 L828.8,441.2 L831.2,447.5 L833.6,453.8 L835.9,460.1 L838.1,466.5 L840.1,472.4 L842.0,478.3 L843.9,484.2 L845.8,490.1 L847.5,496.1 L849.3,502.1 L850.9,508.0 L852.6,514.0 L854.1,520.0 L855.6,526.1 L856.9,531.4 L858.0,536.8 L859.0,542.3 L860.0,547.8 L861.0,553.3 L862.0,558.8 L863.0,564.4 L864.1,570.0 L865.3,575.5 L866.6,581.1 L867.1,582.8 L867.5,584.5 L868.0,586.3 L868.4,588.0 L868.9,589.7 L869.3,591.4 L869.8,593.1 L870.2,594.8 L870.7,596.5 L871.1,598.2 L879.9,595.8 L879.4,594.1 L878.9,592.4 L878.5,590.7 L878.0,589.0 L877.6,587.3 L877.1,585.7 L876.7,584.0 L876.2,582.3 L875.8,580.6 L875.4,578.9 L874.1,573.6 L873.0,568.2 L871.9,562.7 L870.9,557.2 L869.9,551.7 L868.9,546.2 L867.9,540.6 L866.8,535.1 L865.7,529.5 L864.4,523.9 L862.9,517.8 L861.3,511.7 L859.7,505.6 L858.0,499.6 L856.3,493.5 L854.5,487.5 L852.7,481.5 L850.8,475.5 L848.9,469.5 L846.9,463.5 L844.7,457.0 L842.5,450.6 L840.1,444.2 L837.8,437.8 L835.3,431.4 L832.8,425.0 L830.3,418.7 L827.6,412.4 L824.9,406.1 L822.0,399.9 L820.7,397.1 L819.4,394.3 L818.1,391.6 L816.8,388.9 L815.4,386.1 L814.0,383.4 L812.7,380.7 L811.3,378.0 L810.0,375.3 L808.6,372.7 L806.7,368.6 L804.7,364.6 L802.7,360.6 L800.7,356.6 L798.7,352.5 L796.7,348.5 L794.6,344.4 L792.5,340.4 L790.4,336.4 L788.2,332.4 L786.5,329.3 L784.7,326.2 L783.0,323.2 L781.2,320.1 L779.4,317.1 L777.6,314.1 L775.7,311.0 L773.8,308.0 L771.9,305.0 L770.0,302.1 L768.0,298.9 L765.9,295.6 L763.8,292.4 L761.7,289.2 L759.5,285.9 L757.3,282.7 L755.0,279.5 L752.6,276.3 L750.1,273.2 L747.6,270.2 L745.3,267.6 L742.9,265.1 L740.5,262.7 L738.1,260.3 L735.6,258.0 L733.2,255.7 L730.6,253.4 L728.1,251.2 L725.5,249.0 L722.9,246.8 L720.1,244.5 L717.2,242.2 L714.3,239.9 L711.4,237.7 L708.4,235.5 L705.3,233.3 L702.2,231.2 L699.1,229.2 L695.9,227.3 L692.6,225.4 L691.2,224.6 L689.7,223.8 L688.3,223.1 L686.8,222.4 L685.4,221.7 L683.9,221.0 L682.5,220.3 L681.1,219.6 L679.7,218.9 L678.3,218.3 L674.5,216.5 L670.7,214.8 L666.9,213.1 L663.1,211.4 L659.2,209.8 L655.4,208.2 L651.5,206.7 L647.5,205.2 L643.6,203.8 L639.6,202.5 L635.7,201.3 L631.9,200.1 L628.0,199.1 L624.1,198.1 L620.3,197.2 L616.4,196.3 L612.6,195.4 L608.7,194.6 L604.9,193.7 L601.1,192.9 L593.2,191.1 L585.2,189.3 L577.2,187.5 L569.2,185.8 L561.1,184.2 L553.1,182.6 L545.0,181.1 L536.9,179.7 L528.8,178.4 L520.7,177.2 L512.6,176.2 L504.6,175.3 L496.5,174.5 L488.5,173.8 L480.4,173.2 L472.4,172.6 L464.3,172.1 L456.3,171.7 L448.3,171.2 L440.2,170.8 L434.2,170.5 L428.2,170.2 L422.2,170.0 L416.2,169.8 L410.1,169.6 L404.1,169.4 L398.1,169.2 L392.1,169.1 L386.1,168.9 L380.1,168.8 L370.1,168.6 L360.1,168.4 L350.0,168.3 L340.0,168.2 L330.0,168.2 L320.0,168.2 L310.0,168.2 L300.0,168.2 L290.0,168.3 L280.0,168.3 L270.0,168.4 L260.0,168.5 L249.9,168.6 L239.9,168.7 L229.9,168.8 L219.9,169.0 L209.9,169.2 L199.9,169.4 L189.9,169.6 L179.9,169.8 L171.0,170.0 L162.1,170.2 L153.2,170.5 L144.3,170.7 L135.4,171.0 L126.5,171.2 L117.6,171.5 L108.7,171.8 L99.8,172.0 L90.9,172.3 Z" fill="#3a7d8c"/>
<path d="M91.0,165.0 C154.0,164.7 217.0,164.0 280.0,164.0 C333.3,164.0 386.7,163.7 440.0,164.8 C466.7,165.3 493.4,165.7 520.0,167.0 C546.7,168.3 573.4,169.9 600.0,172.5 C613.4,173.8 626.7,175.5 640.0,176.9 C666.7,179.8 693.3,182.3 720.0,185.0 C746.7,187.7 773.3,190.6 800.0,193.1 C824.7,195.4 849.4,196.9 874.0,199.5 C902.7,202.5 931.4,206.1 960.0,210.3 C982.1,213.5 1004.0,217.4 1026.0,221.0 L863.5,275 L869,225.3 C846.0,221.5 823.1,217.3 800.0,213.8 C773.4,209.7 746.6,206.7 720.0,202.8 C693.3,198.9 666.7,194.7 640.0,190.6 C626.7,188.6 613.4,186.3 600.0,184.5 C568.5,180.2 536.7,178.5 505.0,175.5 L440,174 L91,174 L91,170.3 L84,168 L91,166 Z" fill="#3a7d8c"/>
</g>
<path d="M90.5,60 V657 H1050" fill="none" stroke="#231f20" stroke-width="2"/>
<path d="M90.5,45 L100,61.5 L81,61.5 Z" fill="#231f20"/>
<path d="M1066,657 L1049,647.5 L1049,666.5 Z" fill="#231f20"/>
<path d="M113.0,657 V669.5" stroke="#231f20" stroke-width="1.6"/>
<path d="M225.3,657 V669.5" stroke="#231f20" stroke-width="1.6"/>
<path d="M340.0,657 V669.5" stroke="#231f20" stroke-width="1.6"/>
<path d="M454.2,657 V669.5" stroke="#231f20" stroke-width="1.6"/>
<path d="M569.0,657 V669.5" stroke="#231f20" stroke-width="1.6"/>
<path d="M683.8,657 V669.5" stroke="#231f20" stroke-width="1.6"/>
<path d="M798.0,657 V669.5" stroke="#231f20" stroke-width="1.6"/>
<path d="M912.5,657 V669.5" stroke="#231f20" stroke-width="1.6"/>
<g stroke="#231f20" stroke-width="2" fill="none" stroke-linejoin="round">
<path d="M157,122 L169.3,267 L202.5,184.5"/>
<path d="M232,172 L264.2,266.5 L265,199.5"/>
<path d="M949,281 L989,366.5" stroke-width="1.7"/>
</g>
<circle cx="157.0" cy="122.0" r="5.2" fill="#231f20"/>
<circle cx="202.5" cy="184.5" r="5.2" fill="#231f20"/>
<circle cx="232.0" cy="172.0" r="5.2" fill="#231f20"/>
<circle cx="265.0" cy="199.5" r="5.2" fill="#231f20"/>
<g stroke="#231f20" stroke-width="2.2" fill="none" stroke-linecap="round">
<path d="M1072,72 C1079,72 1081,76 1081,84 L1081,138 C1081,148 1084,152 1090.3,154.5 C1084,157 1081,161 1081,171 L1081,224 C1081,232 1079,235.5 1074,235.5"/>
<path d="M1074,244.5 C1079,244.5 1081,247 1081,252 L1081,259 C1081,265 1083,268 1088.3,270.3 C1083,272.5 1081,275 1081,281 L1081,288 C1081,293 1079,296 1074,296"/>
</g>
<text x="112.6" y="692.5" font-family="'Liberation Sans','Noto Sans CJK SC',sans-serif" font-size="22.5" fill="#3a3637" text-anchor="middle">20</text>
<text x="224.9" y="692.5" font-family="'Liberation Sans','Noto Sans CJK SC',sans-serif" font-size="22.5" fill="#3a3637" text-anchor="middle">30</text>
<text x="339.6" y="692.5" font-family="'Liberation Sans','Noto Sans CJK SC',sans-serif" font-size="22.5" fill="#3a3637" text-anchor="middle">40</text>
<text x="453.8" y="692.5" font-family="'Liberation Sans','Noto Sans CJK SC',sans-serif" font-size="22.5" fill="#3a3637" text-anchor="middle">50</text>
<text x="568.6" y="692.5" font-family="'Liberation Sans','Noto Sans CJK SC',sans-serif" font-size="22.5" fill="#3a3637" text-anchor="middle">60</text>
<text x="683.4" y="692.5" font-family="'Liberation Sans','Noto Sans CJK SC',sans-serif" font-size="22.5" fill="#3a3637" text-anchor="middle">70</text>
<text x="797.6" y="692.5" font-family="'Liberation Sans','Noto Sans CJK SC',sans-serif" font-size="22.5" fill="#3a3637" text-anchor="middle">80</text>
<text x="912.1" y="692.5" font-family="'Liberation Sans','Noto Sans CJK SC',sans-serif" font-size="22.5" fill="#3a3637" text-anchor="middle">90</text>
<text x="523.5" y="724.8" font-family="'Liberation Serif','Noto Serif CJK SC',serif" font-size="24" font-weight="500" fill="#3a3637" letter-spacing="2.2">年龄（岁）</text>
<text transform="translate(62,296) rotate(-90)" font-family="'Liberation Serif','Noto Serif CJK SC',serif" font-size="24.5" font-weight="500" fill="#3a3637" text-anchor="middle" letter-spacing="1.9">认知功能</text>
<g font-family="'Liberation Serif','Noto Serif CJK SC',serif" font-size="17.5" font-weight="500" fill="#3a3637">
<text x="128.5" y="284" letter-spacing="2.9">淀粉样蛋</text>
<text x="133.5" y="311.5" letter-spacing="1.5">白级联反</text>
<text x="132.5" y="339" letter-spacing="1">应关闭</text>
<text x="223.5" y="284" letter-spacing="2.9">淀粉样蛋</text>
<text x="228.5" y="311.5" letter-spacing="1.5">白级联反</text>
<text x="226.5" y="339">应</text>
</g>
<text transform="translate(264.3,606.7) scale(1.1,1)" font-family="'Liberation Sans','Noto Sans CJK SC',sans-serif" font-size="17" font-weight="500" fill="#111" letter-spacing="4.8">AD突变携带者</text>
<text x="1097" y="144.5" font-family="'Liberation Sans','Noto Sans CJK SC',sans-serif" font-size="23" fill="#231f20" textLength="80" lengthAdjust="spacingAndGlyphs">APOEε4</text>
<text x="1097.5" y="174.5" font-family="'Liberation Serif','Noto Serif CJK SC',serif" font-size="18" font-weight="500" fill="#3a3637" letter-spacing="0.5">非载波</text>
<text x="1097.5" y="257.8" font-family="'Liberation Serif','Noto Serif CJK SC',serif" font-size="14.5" fill="#3a3637" letter-spacing="0.75">APOEε4 <tspan x="1161.5" font-weight="500">载</tspan></text>
<text x="1097.8" y="281" font-family="'Liberation Serif','Noto Serif CJK SC',serif" font-size="14.5" font-weight="500" fill="#3a3637">体</text>
<text x="989.5" y="388" font-family="'Liberation Serif','Noto Serif CJK SC',serif" font-size="24" font-weight="500" fill="#3a3637" letter-spacing="2.4">认知损害阈</text>
<text x="990" y="425" font-family="'Liberation Serif','Noto Serif CJK SC',serif" font-size="24" font-weight="500" fill="#3a3637">值</text>
</svg>
</body>
</html>
